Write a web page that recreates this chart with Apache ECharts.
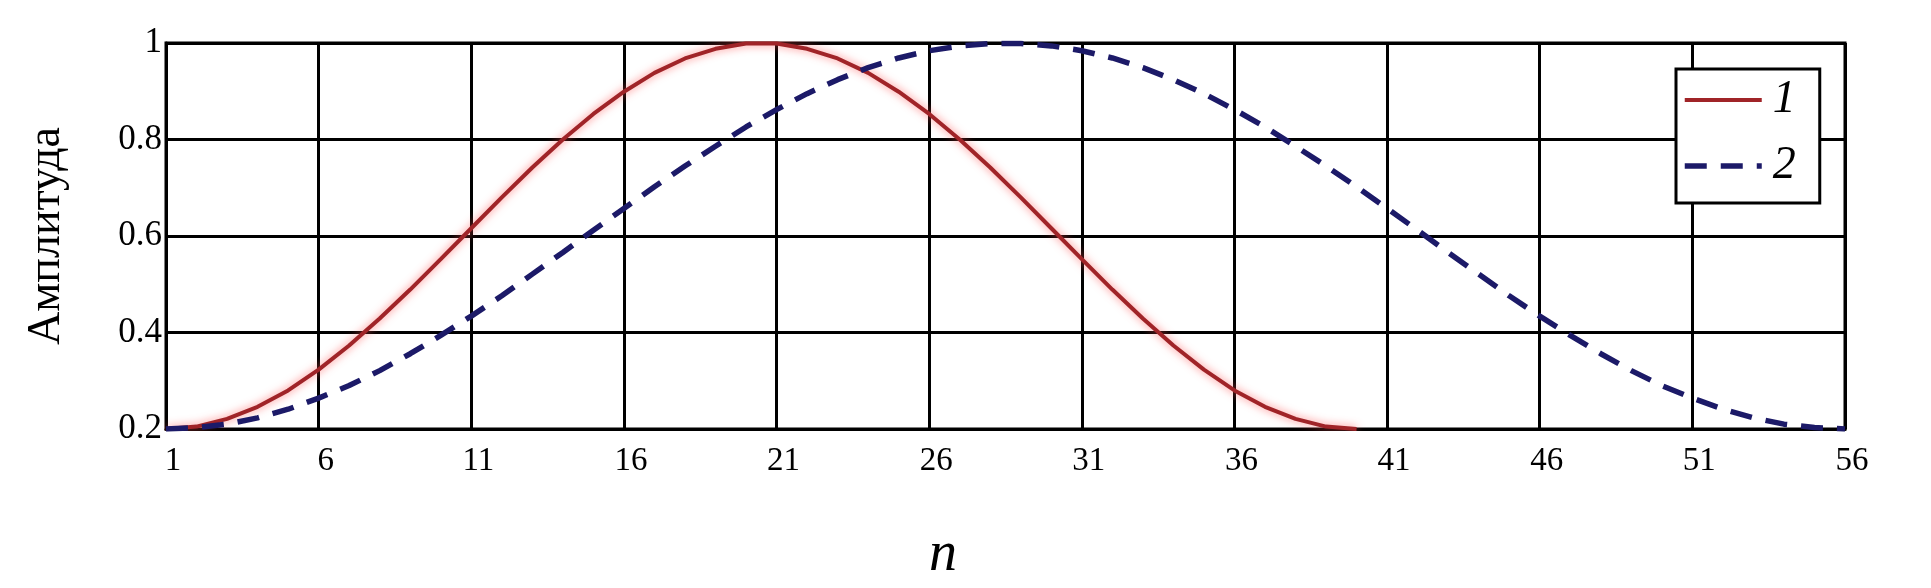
<!DOCTYPE html>
<html>
<head>
<meta charset="utf-8">
<title>Амплитуда</title>
<script src="https://cdn.jsdelivr.net/npm/echarts@6/dist/echarts.min.js"></script>
<style>
  html, body { margin: 0; padding: 0; background: #fff; }
  #chart { width: 1931px; height: 588px; }
</style>
</head>
<body>
<div id="chart"></div>
<script>
// отсчёты n = 1..56
const nValues = Array.from({ length: 56 }, (_, i) => String(i + 1))

// кривая 1 (n = 1..40)
const curve1 = [
  0.200, 0.205, 0.221, 0.246, 0.280, 0.323, 0.373, 0.429, 0.489, 0.552,
  0.616, 0.680, 0.742, 0.800, 0.853, 0.899, 0.938, 0.968, 0.988, 0.999,
  0.999, 0.988, 0.968, 0.938, 0.899, 0.853, 0.800, 0.742, 0.680, 0.616,
  0.552, 0.489, 0.429, 0.373, 0.323, 0.280, 0.246, 0.221, 0.205, 0.200
]

// кривая 2 (n = 1..56)
const curve2 = [
  0.200, 0.203, 0.210, 0.223, 0.241, 0.264, 0.290, 0.321, 0.356, 0.394,
  0.434, 0.476, 0.521, 0.566, 0.612, 0.657, 0.702, 0.745, 0.786, 0.826,
  0.862, 0.895, 0.924, 0.949, 0.969, 0.984, 0.994, 0.999, 0.999, 0.994,
  0.984, 0.969, 0.949, 0.924, 0.895, 0.862, 0.826, 0.786, 0.745, 0.702,
  0.657, 0.612, 0.566, 0.521, 0.476, 0.434, 0.394, 0.356, 0.321, 0.290,
  0.264, 0.241, 0.223, 0.210, 0.203, 0.200
]

const seriesNames = ['1', '2']

const colors = {
  red: '#a02428',
  redGlow: 'rgba(255, 80, 80, 0.75)',
  blue: '#1c1a68',
  ink: '#000'
}
const serif = '"Liberation Serif", "DejaVu Serif", serif'

const chart = echarts.init(document.getElementById('chart'))
chart.setOption({
  backgroundColor: '#fff',
  animation: false,
  grid: {
    left: 166, right: 86, top: 43, bottom: 143,
    show: true, borderColor: colors.ink, borderWidth: 3
  },
  legend: {
    left: 1676, top: 69,
    orient: 'vertical',
    backgroundColor: '#fff',
    borderColor: colors.ink, borderWidth: 3,
    padding: [8, 24, 14, 6],
    itemWidth: 77, itemHeight: 10, itemGap: 20,
    itemStyle: { opacity: 0 },
    textStyle: {
      fontFamily: serif, fontStyle: 'italic', fontSize: 46, lineHeight: 40,
      color: colors.ink, padding: [0, 0, 0, 6]
    },
    data: [
      { name: seriesNames[0], lineStyle: { width: 4 } },
      { name: seriesNames[1], lineStyle: { width: 5.5 } }
    ]
  },
  xAxis: {
    type: 'category',
    data: nValues,
    boundaryGap: false,
    name: 'n',
    nameLocation: 'middle',
    nameGap: 98,
    nameTextStyle: {
      fontFamily: serif, fontStyle: 'italic', fontSize: 56, color: colors.ink,
      padding: [0, 125, 0, 0]
    },
    axisLine: { lineStyle: { color: colors.ink, width: 3 } },
    axisTick: { show: false },
    axisLabel: {
      interval: 4, margin: 16,
      fontFamily: serif, fontSize: 33, color: colors.ink,
      padding: [0, 0, 0, 14]
    },
    splitLine: { show: true, interval: 4, lineStyle: { color: colors.ink, width: 3 } }
  },
  yAxis: {
    type: 'value',
    min: 0.2, max: 1, interval: 0.2,
    name: 'Амплитуда',
    nameLocation: 'middle',
    nameRotate: 90,
    nameGap: 96,
    nameTextStyle: { fontFamily: serif, fontSize: 46, color: colors.ink },
    axisLine: { show: true, lineStyle: { color: colors.ink, width: 3 } },
    axisTick: { show: false },
    axisLabel: { margin: 4, fontFamily: serif, fontSize: 35, color: colors.ink },
    splitLine: { lineStyle: { color: colors.ink, width: 3 } }
  },
  series: [
    {
      name: seriesNames[0],
      type: 'line',
      symbol: 'none',
      data: curve1,
      lineStyle: {
        color: colors.red, width: 4,
        shadowColor: colors.redGlow, shadowBlur: 8
      },
      itemStyle: { color: colors.red },
      z: 3
    },
    {
      name: seriesNames[1],
      type: 'line',
      symbol: 'none',
      data: curve2,
      lineStyle: { color: colors.blue, width: 5.5, type: [22, 14] },
      itemStyle: { color: colors.blue },
      z: 4
    }
  ]
})
</script>
</body>
</html>
